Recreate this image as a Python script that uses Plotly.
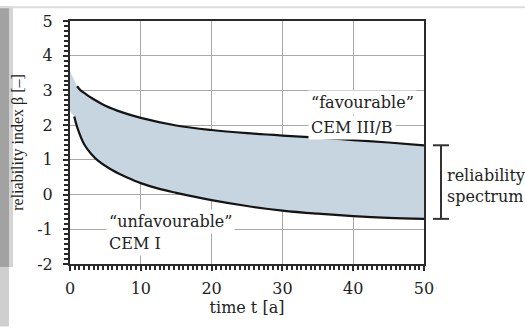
import plotly.graph_objects as go

# ---- data ----
t_upper = [1, 1.5, 2, 3, 5, 7.5, 10, 15, 20, 25, 30, 35, 40, 45, 50]
beta_upper = [3.12, 3.0, 2.93, 2.79, 2.56, 2.36, 2.21, 1.99, 1.86, 1.77, 1.70, 1.64, 1.57, 1.50, 1.42]

t_lower = [0.6, 1, 2, 3, 4, 6, 8, 10, 12.5, 15, 20, 25, 30, 35, 40, 45, 50]
beta_lower = [2.25, 1.95, 1.45, 1.17, 0.97, 0.70, 0.50, 0.33, 0.17, 0.05, -0.16, -0.33, -0.46, -0.55, -0.62, -0.67, -0.70]

band_start_t = [0, 0]
band_start_beta = [3.55, 2.4]

x_ticks = [0, 10, 20, 30, 40, 50]
y_ticks = [-2, -1, 0, 1, 2, 3, 4, 5]

W, H = 525, 328
ML, MR, MT, MB = 70, 101, 15, 64
PW, PH = W - ML - MR, H - MT - MB


def px_x(p):
    return (p - ML) / PW


def px_y(p):
    return 1 - (p - MT) / PH


FONT = "DejaVu Serif"
VFONT = "Liberation Serif"
TXT = "#222222"

fig = go.Figure()

# shaded reliability band
band_x = [band_start_t[0]] + t_upper + t_lower[::-1] + [band_start_t[1]]
band_y = [band_start_beta[0]] + beta_upper + beta_lower[::-1] + [band_start_beta[1]]
fig.add_trace(go.Scatter(x=band_x, y=band_y, fill="toself", mode="none",
                         fillcolor="#c6d5df", hoverinfo="skip", showlegend=False))

fig.add_trace(go.Scatter(x=t_upper, y=beta_upper, mode="lines",
                         line=dict(color="#141414", width=2.2, shape="spline"),
                         showlegend=False))
fig.add_trace(go.Scatter(x=t_lower, y=beta_lower, mode="lines",
                         line=dict(color="#141414", width=2.2, shape="spline"),
                         showlegend=False))

axis_common = dict(
    showline=True, linecolor="#2a2a2a", linewidth=2, mirror=True,
    ticks="outside", ticklen=5, tickwidth=2, tickcolor="#2a2a2a",
    showgrid=True, gridcolor="#a8a8a8", gridwidth=1,
    zeroline=False,
    tickfont=dict(family=FONT, size=16, color=TXT),
)

fig.update_xaxes(range=[0, 50], tickvals=x_ticks,
                 ticktext=[str(v) for v in x_ticks],
                 minor=dict(dtick=10 / 15, tick0=0, ticks="outside", ticklen=4,
                            tickwidth=2, tickcolor="#2a2a2a", showgrid=False),
                 ticklabelstandoff=4,
                 title=dict(text="time t [a]", font=dict(family=FONT, size=16, color=TXT),
                            standoff=4),
                 **axis_common)
fig.update_yaxes(range=[-2, 5], tickvals=y_ticks,
                 ticktext=[str(v) for v in y_ticks],
                 minor=dict(dtick=1 / 7, tick0=0, ticks="outside", ticklen=4,
                            tickwidth=2, tickcolor="#2a2a2a", showgrid=False),
                 ticklabelstandoff=7,
                 title=dict(text="reliability index β [–]",
                            font=dict(family=VFONT, size=16, color=TXT), standoff=10),
                 **axis_common)

ann_font = dict(family=FONT, size=16, color=TXT)
annotations = [
    dict(text="“favourable”", x=px_x(308), y=px_y(99)),
    dict(text="CEM III/B", x=px_x(308), y=px_y(124)),
    dict(text="“unfavourable”", x=px_x(106), y=px_y(220)),
    dict(text="CEM I", x=px_x(106), y=px_y(243)),
]
for a in annotations:
    fig.add_annotation(text=a["text"], x=a["x"], y=a["y"], xref="paper", yref="paper",
                       xanchor="left", yanchor="middle", showarrow=False,
                       font=ann_font, bgcolor="white", borderpad=2)

# reliability spectrum bracket
bx = px_x(441)
cap = 8 / PW
fig.add_shape(type="line", xref="paper", yref="y", x0=bx, x1=bx,
              y0=beta_upper[-1], y1=beta_lower[-1], line=dict(color="#333", width=2))
for yv in (beta_upper[-1], beta_lower[-1]):
    fig.add_shape(type="line", xref="paper", yref="y", x0=bx - cap, x1=bx + cap,
                  y0=yv, y1=yv, line=dict(color="#333", width=2))
fig.add_annotation(text="reliability", x=px_x(445), y=px_y(173), xref="paper", yref="paper",
                   xanchor="left", yanchor="middle", showarrow=False, font=ann_font)
fig.add_annotation(text="spectrum", x=px_x(445), y=px_y(195), xref="paper", yref="paper",
                   xanchor="left", yanchor="middle", showarrow=False, font=ann_font)

# screenshot frame remnants on the left and top
fig.add_shape(type="rect", xref="paper", yref="paper", x0=px_x(0), x1=px_x(9),
              y0=px_y(267), y1=px_y(0), fillcolor="#a2a2a2", line_width=0, layer="below")
fig.add_shape(type="rect", xref="paper", yref="paper", x0=px_x(9), x1=px_x(13),
              y0=px_y(267), y1=px_y(0), fillcolor="#d4d4d4", line_width=0, layer="below")
fig.add_shape(type="rect", xref="paper", yref="paper", x0=px_x(0), x1=px_x(9),
              y0=px_y(H), y1=px_y(267), fillcolor="#cfcfcf", line_width=0, layer="below")
fig.add_shape(type="rect", xref="paper", yref="paper", x0=px_x(0), x1=px_x(W),
              y0=px_y(2), y1=px_y(0), fillcolor="#dcdcdc", line_width=0, layer="below")

fig.update_layout(
    width=W, height=H,
    margin=dict(l=ML, r=MR, t=MT, b=MB),
    paper_bgcolor="white", plot_bgcolor="white",
    showlegend=False,
)

fig.write_html("out.html")
